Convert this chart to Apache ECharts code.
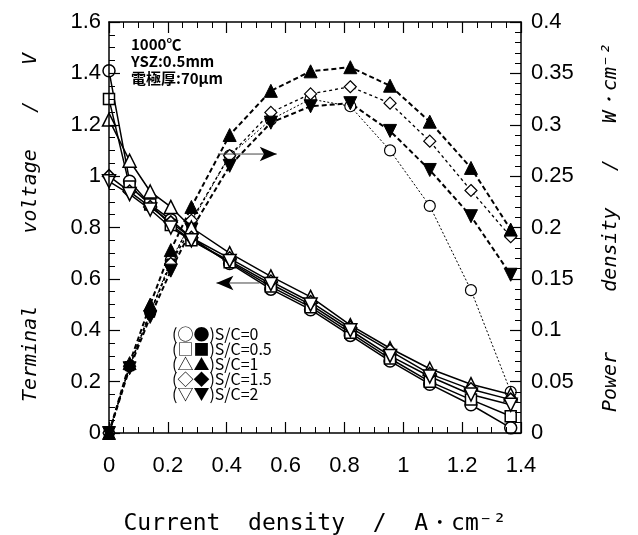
<!DOCTYPE html>
<html>
<head>
<meta charset="utf-8">
<script src="https://cdn.jsdelivr.net/npm/echarts@6/dist/echarts.min.js"></script>
<style>
  html, body { margin: 0; padding: 0; background: #fff; }
  #wrap { position: relative; width: 638px; height: 535px; }
  #plot, #frame { position: absolute; left: 0; top: 0; width: 638px; height: 535px; }
  #frame { pointer-events: none; }
</style>
</head>
<body>
<div id="wrap">
  <div id="plot"></div>
  <div id="frame"></div>
</div>
<script>
// Current density, A/cm2
const current = [0, 0.07, 0.14, 0.21, 0.28, 0.41, 0.55, 0.685, 0.82, 0.955, 1.09, 1.23, 1.365];

// Terminal voltage, V
const voltSC0  = [1.41, 0.98, 0.89, 0.83, 0.76, 0.66, 0.56, 0.48, 0.38, 0.28, 0.19, 0.11, 0.02];
const voltSC05 = [1.30, 0.96, 0.89, 0.81, 0.75, 0.665, 0.57, 0.49, 0.39, 0.29, 0.20, 0.13, 0.065];
const voltSC1  = [1.22, 1.06, 0.94, 0.88, 0.80, 0.70, 0.61, 0.53, 0.42, 0.33, 0.25, 0.19, 0.15];
const voltSC15 = [1.00, 0.94, 0.88, 0.82, 0.76, 0.68, 0.59, 0.51, 0.41, 0.32, 0.23, 0.17, 0.13];
const voltSC2  = [0.98, 0.93, 0.87, 0.80, 0.75, 0.67, 0.58, 0.50, 0.40, 0.30, 0.22, 0.15, 0.11];

// Power density, W/cm2
const powSC0  = [0, 0.065, 0.117, 0.168, 0.205, 0.27, 0.305, 0.325, 0.318, 0.275, 0.221, 0.139, 0.04];
const powSC05 = [0, 0.065, 0.117, 0.165, 0.20];
const powSC1  = [0, 0.068, 0.125, 0.178, 0.22, 0.29, 0.333, 0.352, 0.356, 0.338, 0.303, 0.258, 0.198];
const powSC15 = [0, 0.065, 0.118, 0.165, 0.207, 0.27, 0.312, 0.330, 0.337, 0.321, 0.284, 0.236, 0.191];
const powSC2  = [0, 0.063, 0.113, 0.158, 0.198, 0.26, 0.302, 0.318, 0.321, 0.294, 0.256, 0.211, 0.154];

// Axis ticks
const xTicks = { min: 0, max: 1.4, step: 0.2 };
const leftTicks = { min: 0, max: 1.6, step: 0.2 };
const rightTicks = { min: 0, max: 0.4, step: 0.05 };

// Pointer arrows (start, end) in current / voltage units
const arrowToPower = [[0.37, 1.086], [0.57, 1.086]];
const arrowToVoltage = [[0.511, 0.584], [0.365, 0.584]];

const legendRows = ['(○●)S/C=0', '(□■)S/C=0.5', '(△▲)S/C=1', '(◇◆)S/C=1.5', '(▽▼)S/C=2'];
const noteRows = ['1000℃', 'YSZ:0.5mm', '電極厚:70μm'];

const pairs = (ys) => ys.map((y, i) => [current[i], y]);

const gridBox = { left: 109, right: 117, top: 22, bottom: 102, outerBoundsMode: 'none' };
const tickFont = { fontFamily: 'Liberation Sans', fontSize: 22, color: '#000' };
const titleFont = { fontFamily: 'DejaVu Sans Mono', fontSize: 20, color: '#000', fontStyle: 'italic' };

function voltSeries(ys, symbol, size, rot) {
  return {
    type: 'line', xAxisIndex: 0, yAxisIndex: 0, data: pairs(ys),
    symbol: symbol, symbolSize: size, symbolRotate: rot || 0, z: 3,
    lineStyle: { color: '#000', width: 1.5, type: 'solid' },
    itemStyle: { color: '#fff', borderColor: '#000', borderWidth: 1.5 }
  };
}
function powSeries(ys, symbol, size, rot, filled, dash, width) {
  return {
    type: 'line', xAxisIndex: 0, yAxisIndex: 1, data: pairs(ys),
    symbol: symbol, symbolSize: size, symbolRotate: rot || 0, z: 2,
    lineStyle: { color: '#000', width: width, type: dash },
    itemStyle: filled ? { color: '#000', borderColor: '#000', borderWidth: 1 }
                      : { color: '#fff', borderColor: '#000', borderWidth: 1.2 }
  };
}
function arrowSeries(pts, rot) {
  return {
    type: 'line', xAxisIndex: 0, yAxisIndex: 0, silent: true, z: 4,
    lineStyle: { color: '#444', width: 1 },
    itemStyle: { color: '#000' },
    data: [
      { value: pts[0], symbol: 'none' },
      { value: pts[1], symbol: 'arrow', symbolSize: [11, 17], symbolRotate: rot }
    ]
  };
}

// Scales for the data layer: same ranges as the frame, drawn invisibly
function scaleAxis(extra) {
  return Object.assign({
    type: 'value', splitLine: { show: false },
    axisLine: { show: false, onZero: false }, axisTick: { show: false }, axisLabel: { show: false }
  }, extra);
}

// Frame axes: black line, inward major and minor ticks, tick labels
function frameAxis(extra, minorSplit) {
  return Object.assign({
    type: 'value',
    splitLine: { show: false },
    axisLine: { show: true, onZero: false, lineStyle: { color: '#000', width: 1.5 } },
    axisTick: { show: true, inside: true, length: 11, lineStyle: { color: '#000', width: 1.2 } },
    minorTick: { show: true, splitNumber: minorSplit, length: 6, lineStyle: { color: '#000', width: 1 } }
  }, extra);
}

const plot = echarts.init(document.getElementById('plot'));
plot.setOption({
  animation: false,
  backgroundColor: '#fff',
  title: [
    {
      text: noteRows.join('\n'), left: 131, top: 36, padding: 0,
      textStyle: { fontFamily: 'Noto Sans CJK JP', fontWeight: 'bold', fontSize: 15, lineHeight: 17, color: '#000' }
    },
    {
      text: legendRows.join('\n'), left: 172, top: 326, padding: 0,
      textStyle: { fontFamily: 'Noto Sans CJK JP', fontWeight: 'normal', fontSize: 16, lineHeight: 15, color: '#000' }
    }
  ],
  grid: gridBox,
  xAxis: [
    scaleAxis({
      position: 'bottom', min: xTicks.min, max: xTicks.max, interval: xTicks.step,
      name: 'Current  density  /  A・cm⁻²', nameLocation: 'middle', nameGap: 80,
      nameTextStyle: { fontFamily: 'DejaVu Sans Mono', fontSize: 23, color: '#000' }
    })
  ],
  yAxis: [
    scaleAxis({
      position: 'left', min: leftTicks.min, max: leftTicks.max, interval: leftTicks.step,
      name: 'Terminal      voltage   /   V', nameLocation: 'middle', nameRotate: 90, nameGap: 68,
      nameTextStyle: titleFont
    }),
    scaleAxis({
      position: 'right', min: rightTicks.min, max: rightTicks.max, interval: rightTicks.step,
      name: 'Power     density   /   W・cm⁻²', nameLocation: 'middle', nameRotate: 90, nameGap: 80,
      nameTextStyle: titleFont
    })
  ],
  series: [
    powSeries(powSC0, 'circle', 11, 0, false, [2, 2], 1),
    powSeries(powSC05, 'rect', 9, 0, true, [3, 3], 1.5),
    powSeries(powSC15, 'diamond', 12, 0, false, [3, 3], 1.3),
    powSeries(powSC2, 'triangle', 13, 180, true, [5, 3], 2),
    powSeries(powSC1, 'triangle', 13, 0, true, [5, 3], 2),
    voltSeries(voltSC0, 'circle', 12),
    voltSeries(voltSC05, 'rect', 11),
    voltSeries(voltSC1, 'triangle', 13),
    voltSeries(voltSC15, 'diamond', 13),
    voltSeries(voltSC2, 'triangle', 13, 180),
    arrowSeries(arrowToPower, -90),
    arrowSeries(arrowToVoltage, 90)
  ]
});

const frame = echarts.init(document.getElementById('frame'));
frame.setOption({
  animation: false,
  backgroundColor: 'transparent',
  grid: gridBox,
  xAxis: [
    frameAxis({
      position: 'bottom', min: xTicks.min, max: xTicks.max, interval: xTicks.step,
      axisLabel: Object.assign({ margin: 22, formatter: (v) => String(+v.toFixed(1)) }, tickFont)
    }, 4),
    frameAxis({
      position: 'top', min: xTicks.min, max: xTicks.max, interval: xTicks.step,
      axisLabel: { show: false }
    }, 4)
  ],
  yAxis: [
    frameAxis({
      position: 'left', min: leftTicks.min, max: leftTicks.max, interval: leftTicks.step,
      axisLabel: Object.assign({ margin: 8, formatter: (v) => String(+v.toFixed(1)) }, tickFont)
    }, 4),
    frameAxis({
      position: 'right', min: rightTicks.min, max: rightTicks.max, interval: rightTicks.step,
      axisLabel: Object.assign({ margin: 10, formatter: (v) => String(+v.toFixed(2)) }, tickFont)
    }, 5)
  ],
  series: []
});
</script>
</body>
</html>
